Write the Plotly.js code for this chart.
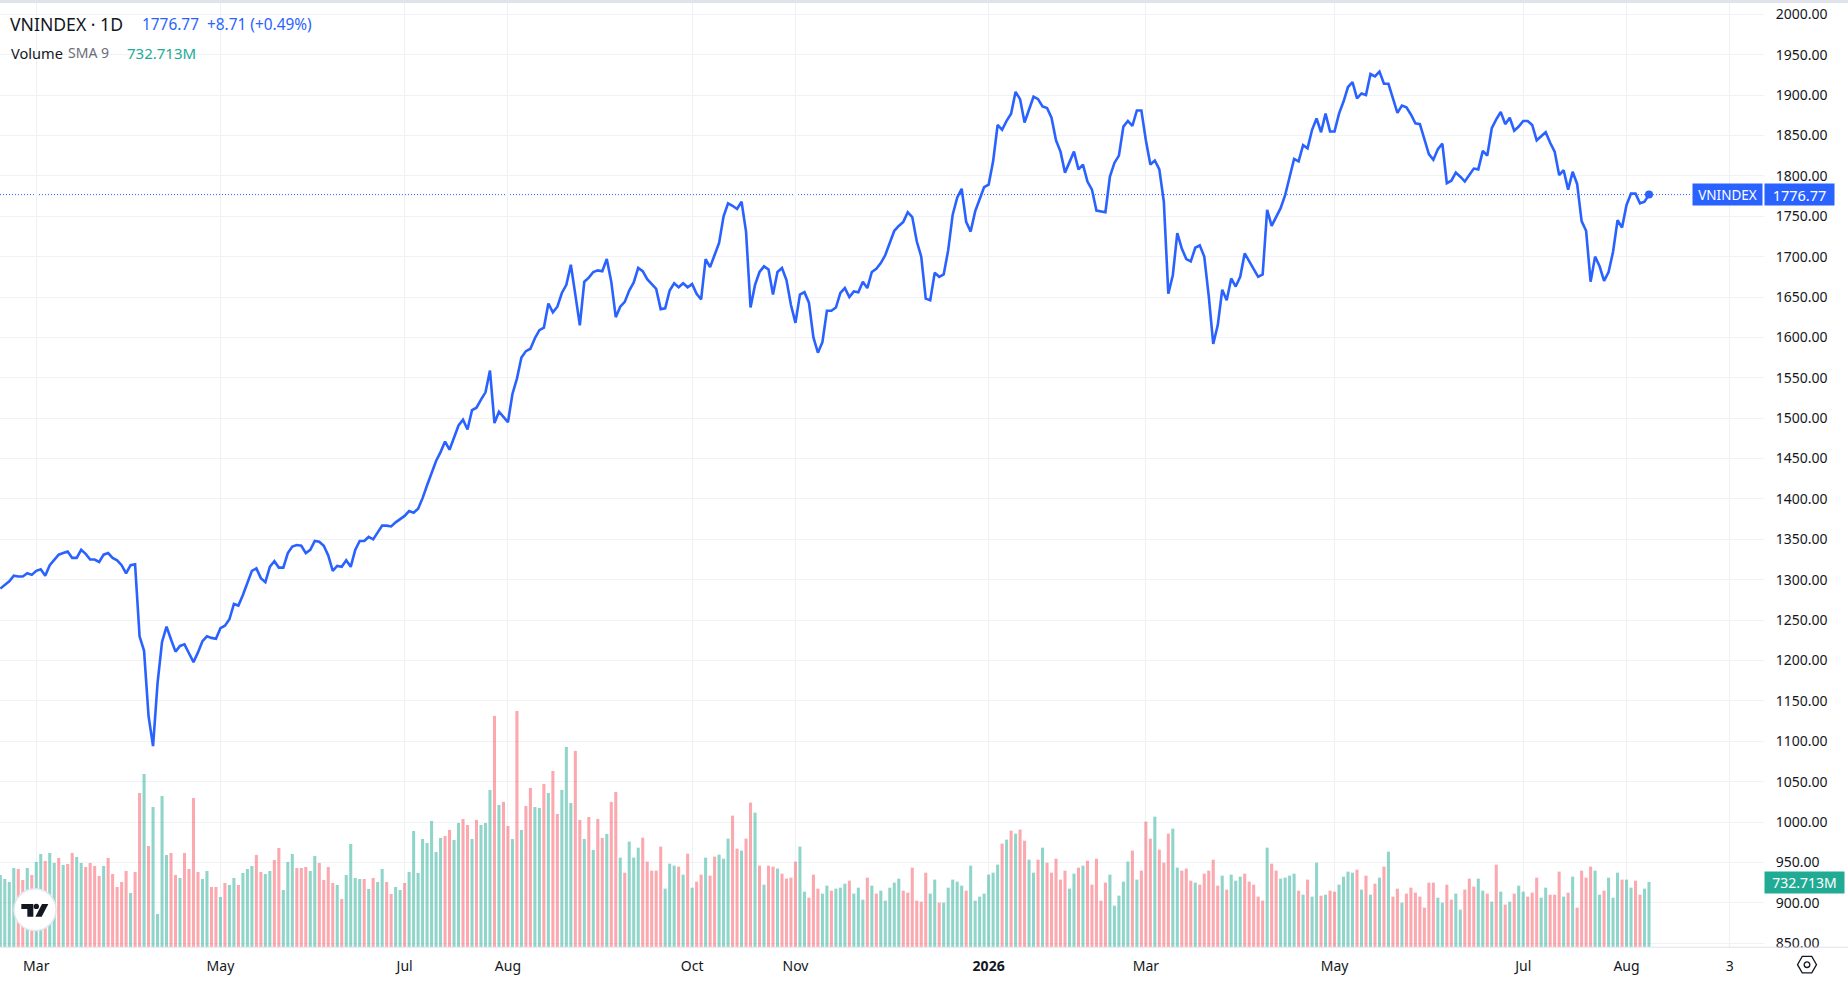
<!DOCTYPE html>
<html>
<head>
<meta charset="utf-8">
<script src="https://cdn.plot.ly/plotly-3.0.1.min.js"></script>
<style>html,body{margin:0;padding:0;background:#fff;overflow:hidden}#chart{width:1848px;height:982px}</style>
</head>
<body>
<div id="chart"></div>
<script>
// Daily close of VNINDEX, one value per trading session
const closes = [
1289,1294,1298,1305,1304,1304,1308,1306,1311,1313,1305,1318,1325,1331,1333,1335,1327,1327,1337,1332,
1325,1325,1322,1331,1333,1327,1324,1318,1308,1318,1319,1230,1212,1131,1094,1172,1223,1242,1226,1211,
1218,1220,1209,1198,1210,1224,1230,1228,1227,1240,1243,1251,1270,1268,1281,1295,1311,1314,1302,1297,
1316,1323,1315,1315,1333,1341,1343,1342,1333,1337,1348,1347,1342,1330,1311,1317,1316,1324,1316,1337,
1348,1348,1353,1350,1358,1367,1367,1366,1371,1375,1379,1385,1383,1388,1401,1417,1432,1447,1458,1471,
1461,1476,1491,1498,1486,1510,1513,1523,1532,1559,1494,1508,1502,1495,1530,1549,1575,1583,1586,1599,
1609,1612,1642,1631,1638,1655,1665,1690,1653,1615,1669,1674,1681,1683,1682,1697,1669,1625,1638,1644,
1658,1668,1686,1682,1672,1666,1660,1635,1636,1658,1667,1662,1667,1662,1666,1654,1647,1697,1687,1702,
1717,1750,1766,1763,1759,1768,1731,1637,1665,1681,1688,1684,1653,1681,1686,1671,1640,1618,1653,1656,
1643,1600,1581,1594,1633,1633,1637,1655,1661,1650,1657,1656,1669,1661,1681,1685,1692,1702,1717,1732,
1738,1743,1755,1749,1719,1700,1648,1646,1680,1675,1678,1708,1752,1773,1784,1743,1731,1756,1771,1786,
1789,1818,1863,1857,1868,1877,1904,1895,1866,1881,1898,1895,1886,1884,1872,1844,1830,1804,1817,1830,
1808,1814,1793,1783,1757,1756,1755,1799,1816,1825,1861,1868,1862,1881,1881,1844,1814,1819,1808,1768,
1654,1677,1729,1710,1697,1694,1711,1714,1700,1651,1592,1615,1659,1646,1673,1663,1675,1704,1694,1684,
1675,1678,1758,1738,1749,1760,1776,1798,1821,1818,1838,1834,1857,1871,1854,1877,1855,1855,1877,1892,
1910,1916,1896,1902,1900,1926,1923,1929,1914,1914,1895,1878,1887,1885,1876,1865,1864,1844,1827,1820,
1833,1840,1791,1794,1804,1799,1793,1801,1809,1808,1831,1825,1859,1870,1879,1864,1872,1856,1861,1868,
1868,1863,1844,1849,1854,1841,1830,1801,1807,1783,1805,1790,1744,1732,1669,1700,1688,1670,1681,1706,
1745,1736,1764,1778,1778,1766,1768,1776.77
];
// Session volume in millions
const volumes = [
812,767,733,891,880,756,891,812,959,1049,970,1060,948,1004,925,936,1060,1015,948,902,
948,914,801,914,1004,823,677,733,857,609,846,1737,1951,1139,1579,372,1703,1038,1060,812,
778,1060,880,1681,846,767,857,677,677,564,722,699,778,699,835,880,914,1038,846,823,
857,981,1117,643,959,1049,891,891,902,857,1026,948,756,902,722,699,541,812,1162,778,
767,767,654,778,733,880,733,598,677,643,722,846,1308,835,1218,1173,1421,1072,1230,1252,
1320,1207,1399,1444,1376,1218,1433,1376,1399,1771,2606,1602,1636,1365,1218,2662,1320,1590,1794,1579,
1568,1839,1737,1985,1500,1771,2256,1624,2211,1433,1218,1466,1094,1444,1230,1275,1636,1748,
1008,838,1188,1008,1120,1233,963,861,861,1132,658,940,917,906,816,1053,669,737,816,1008,
805,1019,1042,996,1222,1481,1109,1087,1222,1628,1515,917,703,917,906,884,827,771,782,963,
1132,624,556,816,658,602,692,635,658,669,714,748,602,669,534,782,692,602,635,523,
669,726,771,635,613,895,523,511,838,602,760,500,500,669,760,737,692,635,917,523,
568,602,816,838,929,1166,1211,1312,1278,1324,1199,985,838,985,1120,951,838,996,760,861,
658,827,895,917,974,703,996,523,726,816,466,579,737,963,1087,760,861,1414,1222,1470,
1098,951,1278,1335,895,861,884,748,726,703,827,861,985,692,805,647,816,748,793,
827,737,703,568,523,1120,940,861,771,782,805,827,635,590,760,568,951,579,590,635,
624,703,793,850,838,872,647,805,590,714,782,906,1075,568,658,500,602,669,613,568,
444,726,726,556,500,703,534,602,421,647,771,681,771,635,602,511,929,624,478,511,
602,692,624,568,613,782,556,669,590,590,850,568,613,793,444,861,782,906,861,590,
635,782,556,838,760,760,669,748,590,658,733
];
// G = up session, R = down session
const volumeSides = (
"GGGGRRGRGG"+"RGGRGRRGGR"+"RRRGRRRRRG"+"RRGRGGGGRR"+"GRRRRGGRRG"+"RGGRGGGRRG"+"GRRGGGRRRG"+
"GRRRRGRGGG"+"GRGRGGRRGG"+"RGGGGGGGGR"+"RGGRRGRGGG"+"RGRRGRGRRG"+"GRGRRGGGRR"+"GRGRRGRR"+
"GRGGGRRRRR"+"GGGRGRGRRG"+"RRGGGRRGRR"+"GRGRRGRRRR"+"GGRRRGGRGG"+"GRGGGRGRGG"+"GGGRRRRRRG"+
"GRGGGGGRGG"+"GGGGGRGRGR"+"RGGRGRRRRR"+"GGRGRRRRRG"+"GGGGRGRRRG"+"RRRGGRRRGR"+"RRRRGRGGG"+
"RRRRRGRRGG"+"GGRGRGGRGR"+"RGGGGRGRGR"+"GRGRRGRRRR"+"RRRGGRRGGR"+"RRGGRGRGRG"+"RGGRRRGGRR"+
"RGRGRRRRGG"+"RGGGRGGRRG"+"G").split("");

const tickIndex = [8,49,90,113,154,177,220,255,297,339,362,385];
const tickLabels = ["Mar","May","Jul","Aug","Oct","Nov","<b>2026</b>","Mar","May","Jul","Aug","3"];
const priceTicks = [850,900,950,1000,1050,1100,1150,1200,1250,1300,1350,1400,1450,1500,1550,1600,1650,1700,1750,1800,1850,1900,1950,2000];
const lastClose = 1776.77;
const lastSma = 732.713;

const W = 1848, H = 982, L = 0, R = 1764, T = 3, B = 947.3;
const px = x => (x - L) / (R - L);
const py = y => 1 - (y - T) / (B - T);
const BLUE = "#2962ff", TEAL = "#22ab94", INK = "#131722";
const FONT = '"Noto Sans","Open Sans",sans-serif';
const idx = closes.map((_, i) => i);

const traces = [
  { type: "bar", x: idx, y: volumes, yaxis: "y2", width: 0.68,
    marker: { color: volumeSides.map(s => s === "G" ? "rgba(34,171,148,0.5)" : "rgba(247,82,95,0.5)"), line: { width: 0 } },
    hoverinfo: "skip" },
  { type: "scatter", mode: "lines", x: idx, y: closes, yaxis: "y",
    line: { color: BLUE, width: 2.6, shape: "linear" }, hoverinfo: "skip" },
  { type: "scatter", mode: "markers", x: [idx[idx.length - 1]], y: [closes[closes.length - 1]], yaxis: "y",
    marker: { color: BLUE, size: 8 }, hoverinfo: "skip" }
];

function polyPath(points) {
  return "M" + points.map(p => px(p[0]) + "," + py(p[1])).join(" L") + " Z";
}
const logoX = v => 10 + v / 3, logoY = v => 885 + v / 3;
const hex = [];
for (let k = 0; k < 6; k++) {
  const a = Math.PI / 3 * k;
  hex.push([1807 + 9.5 * Math.cos(a), 965 + 9.5 * Math.sin(a)]);
}

const shapes = [
  { type: "rect", xref: "paper", yref: "paper", x0: 0, x1: px(W), y0: py(0), y1: py(3), fillcolor: "#e0e3eb", line: { width: 0 } },
  { type: "line", xref: "paper", yref: "paper", x0: 0, x1: px(W), y0: py(947.5), y1: py(947.5), line: { color: "#e0e3eb", width: 1 } },
  { type: "line", xref: "paper", yref: "y", x0: 0, x1: px(1692), y0: lastClose, y1: lastClose, layer: "below",
    line: { color: BLUE, width: 1, dash: "1px,2px" } },
  { type: "circle", xref: "paper", yref: "paper", x0: px(35 - 21), x1: px(35 + 21), y0: py(910 + 21), y1: py(910 - 21),
    fillcolor: "#ffffff", line: { color: "#e4e6ee", width: 1.5 } },
  { type: "path", xref: "paper", yref: "paper", fillcolor: INK, line: { width: 0 },
    path: polyPath([[logoX(34), logoY(58)], [logoX(70), logoY(58)], [logoX(70), logoY(96)], [logoX(52), logoY(96)], [logoX(52), logoY(73)], [logoX(34), logoY(73)]]) },
  { type: "path", xref: "paper", yref: "paper", fillcolor: INK, line: { width: 0 },
    path: polyPath([[logoX(96), logoY(58)], [logoX(115), logoY(58)], [logoX(95), logoY(96)], [logoX(76), logoY(96)]]) },
  { type: "circle", xref: "paper", yref: "paper", fillcolor: INK, line: { width: 0 },
    x0: px(logoX(71)), x1: px(logoX(87)), y0: py(logoY(73)), y1: py(logoY(57)) },
  { type: "path", xref: "paper", yref: "paper", fillcolor: "rgba(0,0,0,0)", line: { color: INK, width: 1.3 }, path: polyPath(hex) },
  { type: "circle", xref: "paper", yref: "paper", fillcolor: "rgba(0,0,0,0)", line: { color: INK, width: 1.3 },
    x0: px(1807 - 2.8), x1: px(1807 + 2.8), y0: py(965 + 2.8), y1: py(965 - 2.8) }
];

const label = (text, x, y, size, color) => ({
  text, xref: "paper", yref: "paper", x: px(x), y: py(y), xanchor: "left", yanchor: "middle",
  showarrow: false, font: { family: FONT, size, color }, borderpad: 0
});

const annotations = [
  label("VNINDEX · 1D", 9, 24, 17.6, INK),
  label("1776.77", 141, 25, 15.4, BLUE),
  label("+8.71 (+0.49%)", 206, 25, 15.4, BLUE),
  label("Volume", 10, 53, 14.6, INK),
  label("SMA 9", 67, 53, 14, "#6a6d78"),
  label("732.713M", 126, 53, 15, TEAL),
  { text: "VNINDEX", xref: "paper", yref: "y", x: 1, y: lastClose, xanchor: "right", yanchor: "middle", xshift: -1,
    showarrow: false, width: 69, height: 21, bgcolor: BLUE, borderpad: 0, align: "center", font: { family: FONT, size: 13.5, color: "#fff" } },
  { text: "1776.77", xref: "paper", yref: "y", x: 1, y: lastClose, xanchor: "left", yanchor: "middle",
    showarrow: false, width: 69, height: 21, bgcolor: BLUE, borderpad: 0, align: "center", font: { family: FONT, size: 14.5, color: "#fff" } },
  { text: "732.713M", xref: "paper", yref: "y2", x: 1, y: lastSma, xanchor: "left", yanchor: "middle",
    showarrow: false, width: 79, height: 21, bgcolor: TEAL, borderpad: 0, align: "center", font: { family: FONT, size: 14, color: "#fff" } }
];

const layout = {
  width: W, height: H,
  margin: { l: L, r: W - R, t: T, b: H - B, pad: 0 },
  paper_bgcolor: "#ffffff", plot_bgcolor: "#ffffff",
  showlegend: false, hovermode: false, bargap: 0.3,
  font: { family: FONT, size: 14, color: INK },
  xaxis: {
    type: "linear", range: [-0.07, 392.6], tickmode: "array", tickvals: tickIndex, ticktext: tickLabels,
    showgrid: true, gridcolor: "#eef0f4", gridwidth: 1, zeroline: false, showline: false,
    ticks: "outside", ticklen: 6, tickcolor: "rgba(0,0,0,0)", tickfont: { family: FONT, size: 14, color: INK }, fixedrange: true
  },
  yaxis: {
    type: "linear", range: [845.3, 2014], side: "right", tickmode: "array", tickvals: priceTicks,
    tickformat: ".2f", showgrid: true, gridcolor: "#f1f2f5", gridwidth: 1, zeroline: false, showline: false,
    ticks: "outside", ticklen: 8, tickcolor: "rgba(0,0,0,0)", tickfont: { family: FONT, size: 14, color: INK }, fixedrange: true
  },
  yaxis2: { type: "linear", range: [0, 10646], overlaying: "y", visible: false, fixedrange: true },
  shapes, annotations
};

Plotly.newPlot("chart", traces, layout, { displayModeBar: false, staticPlot: true });
</script>
</body>
</html>
